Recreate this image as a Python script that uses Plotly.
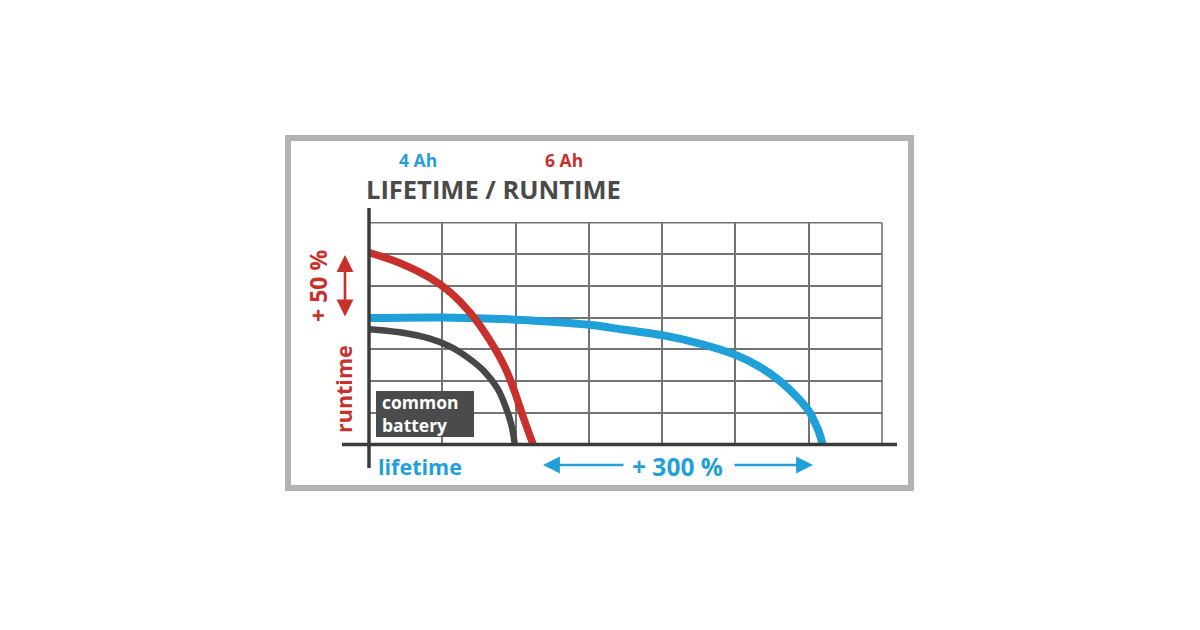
import plotly.graph_objects as go

# ---- data (grid units: lifetime on x, runtime on y) ----
lifetime_common = [0.00, 0.42, 0.83, 1.11, 1.38, 1.58, 1.75, 1.85, 1.94, 1.99]
runtime_common = [3.64, 3.54, 3.34, 3.09, 2.69, 2.29, 1.78, 1.28, 0.65, 0.00]

lifetime_4ah = [0.00, 1.00, 2.01, 3.00, 3.49, 4.00, 4.52, 5.01, 5.34, 5.61, 5.88, 6.02, 6.08, 6.14, 6.19]
runtime_4ah = [3.99, 4.01, 3.94, 3.78, 3.62, 3.45, 3.18, 2.82, 2.44, 2.00, 1.40, 0.99, 0.71, 0.39, 0.00]

lifetime_6ah = [0.00, 0.42, 0.83, 1.11, 1.38, 1.65, 1.86, 1.99, 2.11, 2.24]
runtime_6ah = [6.06, 5.73, 5.26, 4.80, 4.16, 3.28, 2.41, 1.65, 0.83, 0.00]

title_text = "LIFETIME / RUNTIME"
label_4ah = "4 Ah"
label_6ah = "6 Ah"
label_runtime = "runtime"
label_lifetime = "lifetime"
label_plus50 = "+ 50 %"
label_plus300 = "+ 300 %"
label_common = "common<br>battery"

RED = "#c8302b"
BLUE = "#1fa0d9"
DARK = "#474747"
TXT = "#4a4a4a"
GRID = "#737373"
AXIS = "#3b3b3b"
FONT = "Open Sans"

W, H = 1200, 630


def px(x):
    return x / W


def py(y):
    return 1 - y / H


fig = go.Figure()
fig.add_trace(go.Scatter(x=lifetime_common, y=runtime_common, mode="lines",
                         line=dict(color=DARK, width=6.5, shape="spline", smoothing=1.0),
                         hoverinfo="skip", showlegend=False))
fig.add_trace(go.Scatter(x=lifetime_4ah, y=runtime_4ah, mode="lines",
                         line=dict(color=BLUE, width=8, shape="spline", smoothing=1.0),
                         hoverinfo="skip", showlegend=False))
fig.add_trace(go.Scatter(x=lifetime_6ah, y=runtime_6ah, mode="lines",
                         line=dict(color=RED, width=7.5, shape="spline", smoothing=1.0),
                         hoverinfo="skip", showlegend=False))

axis_common = dict(range=[0, 7], dtick=1, tick0=0, showgrid=True, gridcolor=GRID,
                   gridwidth=1.6, zeroline=False, showline=False, showticklabels=False,
                   ticks="", fixedrange=True)
fig.update_layout(
    width=W, height=H,
    margin=dict(l=0, r=0, t=0, b=0),
    paper_bgcolor="white", plot_bgcolor="white",
    xaxis=dict(domain=[px(369), px(882)], **axis_common),
    yaxis=dict(domain=[py(444.5), py(222.7)], **axis_common),
    showlegend=False,
)

shapes = []
# outer frame
shapes.append(dict(type="rect", xref="paper", yref="paper", x0=px(288), x1=px(911),
                   y0=py(138), y1=py(488), line=dict(color="#b3b3b3", width=6),
                   fillcolor="rgba(0,0,0,0)", layer="below"))
# grid border (top / right)
shapes.append(dict(type="line", xref="paper", yref="paper", x0=px(369), x1=px(882),
                   y0=py(222.7), y1=py(222.7), line=dict(color=GRID, width=1.6), layer="below"))
shapes.append(dict(type="line", xref="paper", yref="paper", x0=px(882), x1=px(882),
                   y0=py(222.7), y1=py(444.5), line=dict(color=GRID, width=1.6), layer="below"))
# axis lines
shapes.append(dict(type="line", xref="paper", yref="paper", x0=px(342), x1=px(897),
                   y0=py(444.5), y1=py(444.5), line=dict(color=AXIS, width=3.5)))
shapes.append(dict(type="line", xref="paper", yref="paper", x0=px(369), x1=px(369),
                   y0=py(208), y1=py(468), line=dict(color=AXIS, width=3.5)))
# common battery box
shapes.append(dict(type="rect", xref="paper", yref="paper", x0=px(376), x1=px(474),
                   y0=py(437), y1=py(391), line=dict(width=0), fillcolor="#4b4b4b"))
fig.update_layout(shapes=shapes)


def txt(text, x, y, color, size, angle=0, xanchor="center", align="center", weight=700):
    fig.add_annotation(text=text, x=px(x), y=py(y), xref="paper", yref="paper",
                       showarrow=False, textangle=angle, xanchor=xanchor, yanchor="middle",
                       align=align, font=dict(family=FONT, size=size, color=color, weight=weight))


txt(label_4ah, 418, 159.5, BLUE, 17.5)
txt(label_6ah, 564, 159.5, RED, 17.5)
txt(title_text, 493, 188.5, TXT, 25.5)
txt(label_plus50, 318, 286, RED, 23, angle=-90)
txt(label_runtime, 343, 389, RED, 21.5, angle=-90)
txt(label_lifetime, 420, 466, BLUE, 21.5)
txt(label_plus300, 677, 466, BLUE, 24.5)
txt(label_common, 380, 413, "white", 17.5, xanchor="left", align="left")


def arrow(xh, yh, xt, yt, color, width, both=False):
    fig.add_annotation(text="", x=px(xh), y=py(yh), xref="paper", yref="paper",
                       ax=xt - xh, ay=yt - yh, axref="pixel", ayref="pixel",
                       showarrow=True, arrowhead=2, arrowsize=1.3, arrowwidth=width,
                       arrowcolor=color, arrowside="end+start" if both else "end",
                       standoff=0, startstandoff=0)


arrow(345, 255, 345, 318, RED, 2.6, both=True)
arrow(543, 465, 625, 465, BLUE, 2.6)
arrow(813, 465, 733, 465, BLUE, 2.6)

fig.write_html("out.html", config={"displayModeBar": False},
               post_script="document.body.style.margin='0';")
